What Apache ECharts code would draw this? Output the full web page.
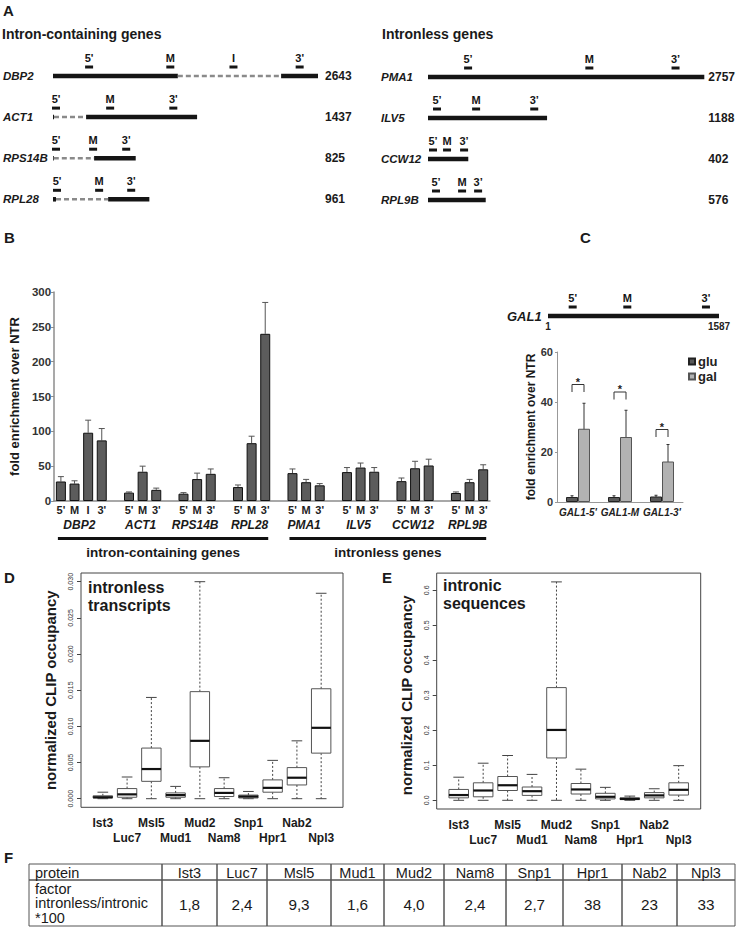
<!DOCTYPE html>
<html><head><meta charset="utf-8">
<script src="https://cdn.jsdelivr.net/npm/echarts@6/dist/echarts.min.js"></script>
<style>html,body{margin:0;padding:0;background:#fff}#c{width:738px;height:931px}</style>
</head><body><div id="c"></div>
<script>
// ---------------- Panel A data ----------------
const leftGenes = ['DBP2', 'ACT1', 'RPS14B', 'RPL28'];
const leftLengths = [2643, 1437, 825, 961];
// [start bp, end bp, gene index, intron?]
const leftSegments = [[0,1245,0,0],[1245,2275,0,1],[2275,2643,0,0],
  [0,10,1,0],[10,330,1,1],[330,1437,1,0],
  [0,8,2,0],[8,410,2,1],[410,825,2,0],
  [0,30,3,0],[30,550,3,1],[550,961,3,0]];
const leftProbePos = [[360,0],[1170,0],[1800,0],[2460,0],[30,1],[570,1],[1200,1],[30,2],[400,2],[730,2],[40,3],[460,3],[780,3]];
const leftProbeLabels = ["5'","M","I","3'","5'","M","3'","5'","M","3'","5'","M","3'"];

const rightGenes = ['PMA1', 'ILV5', 'CCW12', 'RPL9B'];
const rightLengths = [2757, 1188, 402, 576];
const rightSegments = [[0,2757,0,0],[0,1188,1,0],[0,402,2,0],[0,576,3,0]];
const rightProbePos = [[400,0],[1610,0],[2470,0],[90,1],[480,1],[1060,1],[50,2],[190,2],[360,2],[80,3],[340,3],[500,3]];
const rightProbeLabels = ["5’","M","3’","5’","M","3’","5’","M","3’","5’","M","3’"];

// ---------------- Panel B data ----------------
const bGenes = ['DBP2','ACT1','RPS14B','RPL28','PMA1','ILV5','CCW12','RPL9B'];
const bProbes = [["5'","M","I","3'"],["5'","M","3'"],["5'","M","3'"],["5'","M","3'"],["5'","M","3'"],["5'","M","3'"],["5'","M","3'"],["5'","M","3'"]];
const bMeans = [[28,25,98,87],[12,42,16],[10.5,31.5,39],[20,83,240],[40,27,22.5],[41.5,48,42],[28.5,47,51],[11.5,27,45.5]];
const bErrTop = [[35,29,116,104],[13,50,18.5],[12,40,46],[23,93,285],[46,31,25],[48,54.5,48],[33,57,60],[13,31,52]];
const bClasses = ['intron-containing genes', 'intronless genes'];
const bClassGenes = [[0,3],[4,7]];

// ---------------- Panel C data ----------------
const galLength = 1587;
const galProbePos = [229, 736, 1466];
const galProbeLabels = ["5'","M","3'"];
const cCats = ["GAL1-5'", "GAL1-M", "GAL1-3'"];
const gluMean = [2, 2, 2.2];
const gluErr = [0.5, 0.5, 0.5];
const galMean = [29.3, 26, 16.2];
const galErr = [10.2, 10.7, 6.8];
const sigTop = [47, 44, 29];

// ---------------- Panels D / E data ----------------
const proteins = ['Ist3','Luc7','Msl5','Mud1','Mud2','Nam8','Snp1','Hpr1','Nab2','Npl3'];
// [min, Q1, median, Q3, max]
const dBoxes = [[0,0.0001,0.0002,0.0004,0.0009],[0,0.0002,0.0006,0.0014,0.0030],[0,0.0024,0.0041,0.0070,0.0140],
  [0,0.0002,0.0005,0.0008,0.0017],[0,0.0044,0.0080,0.0148,0.0300],[0,0.0003,0.0008,0.0014,0.0029],
  [0,0.0001,0.0003,0.0005,0.0010],[0,0.0009,0.0015,0.0026,0.0053],[0,0.0019,0.0029,0.0043,0.0080],
  [0,0.0063,0.0098,0.0152,0.0284]];
const eBoxes = [[0,0.007,0.015,0.031,0.066],[0,0.010,0.028,0.050,0.106],[0,0.028,0.043,0.068,0.128],
  [0,0.014,0.026,0.038,0.074],[0,0.121,0.201,0.322,0.624],[0,0.018,0.031,0.048,0.089],
  [0,0.004,0.010,0.020,0.037],[0,0.002,0.004,0.007,0.012],[0,0.007,0.014,0.022,0.033],
  [0,0.015,0.030,0.050,0.099]];

// ---------------- Panel F data ----------------
const tableHeader = 'protein';
const tableRowLabel = ['factor', 'intronless/intronic', '*100'];
const tableFactors = ['1,8','2,4','9,3','1,6','4,0','2,4','2,7','38','23','33'];

// ---------------- styling / layout ----------------
const FAM = '"Liberation Sans", Arial, Helvetica, sans-serif';
const NARROW = '"Liberation Sans Narrow", "Arial Narrow", "Liberation Sans", Arial, sans-serif';
const ctx = document.createElement('canvas').getContext('2d');
function fitSize(family, weight, s, target) { ctx.font = weight + ' 20px ' + family; return target * 20 / ctx.measureText(s).width; }
const tableFs = Math.min(18, fitSize(NARROW, 'normal', 'intronless/intronic', 113));
const catFs = 12;
const TABLE_X = [29,162,217,267,331,384,444,506,563,622,677,735];
const TABLE_Y = [864, 880, 926];

// ---- build B categories
const bCats = [], bLabels = [], bBarData = [], bErrData = [], bGroupIdx = [];
bGenes.forEach((g, gi) => {
  if (gi > 0) { bCats.push('gap' + gi); bLabels.push(''); bBarData.push('-'); }
  const first = bCats.length;
  bProbes[gi].forEach((p, pi) => {
    const idx = bCats.length;
    bCats.push(g + ' ' + p); bLabels.push(p); bBarData.push(bMeans[gi][pi]);
    bErrData.push([idx, bMeans[gi][pi], bErrTop[gi][pi]]);
  });
  bGroupIdx.push([first, bCats.length - 1]);
});

// ---------------- render helpers ----------------
function segRender(params, api) {
  const s = api.coord([api.value(0), api.value(2)]);
  const e = api.coord([api.value(1), api.value(2)]);
  const intron = api.value(3) === 1;
  return { type: 'line', shape: { x1: s[0], y1: s[1], x2: e[0], y2: e[1] },
    style: { stroke: intron ? '#8a8a8a' : '#151515', lineWidth: intron ? 2.5 : 4.5, lineDash: intron ? [5, 3] : null } };
}
function probeRender(labels) {
  return function (params, api) {
    const p = api.coord([api.value(0), api.value(1)]);
    return { type: 'group', children: [
      { type: 'rect', shape: { x: p[0] - 4, y: p[1] - 10.5, width: 8, height: 3 }, style: { fill: '#151515' } },
      { type: 'text', x: p[0], y: p[1] - 18, style: { text: labels[params.dataIndex], align: 'center', verticalAlign: 'middle',
        font: 'bold 11px ' + FAM, fill: '#151515' } }
    ] };
  };
}
function bErrRender(params, api) {
  const lo = api.coord([api.value(0), api.value(1)]);
  const hi = api.coord([api.value(0), api.value(2)]);
  return { type: 'group', children: [
    { type: 'line', shape: { x1: lo[0], y1: lo[1], x2: hi[0], y2: hi[1] }, style: { stroke: '#555', lineWidth: 1 } },
    { type: 'line', shape: { x1: hi[0] - 3, y1: hi[1], x2: hi[0] + 3, y2: hi[1] }, style: { stroke: '#555', lineWidth: 1 } }
  ] };
}
function cErrRender(params, api) {
  const idx = api.value(0);
  const lo = api.coord([idx, api.value(1)]);
  const hi = api.coord([idx, api.value(2)]);
  const x = lo[0] + api.value(3) * 6;
  return { type: 'group', children: [
    { type: 'line', shape: { x1: x, y1: lo[1], x2: x, y2: hi[1] }, style: { stroke: '#333', lineWidth: 1 } },
    { type: 'line', shape: { x1: x - 1.5, y1: hi[1], x2: x + 1.5, y2: hi[1] }, style: { stroke: '#333', lineWidth: 1 } },
    { type: 'line', shape: { x1: x - 1.5, y1: lo[1], x2: x + 1.5, y2: lo[1] }, style: { stroke: '#333', lineWidth: 1 } }
  ] };
}
function bracketRender(params, api) {
  const idx = api.value(0);
  const t = api.coord([idx, api.value(1)]);
  const b = api.coord([idx, api.value(1) - 3]);
  const x1 = t[0] - 6, x2 = t[0] + 6;
  return { type: 'group', children: [
    { type: 'polyline', shape: { points: [[x1, b[1]], [x1, t[1]], [x2, t[1]], [x2, b[1]]] }, style: { stroke: '#333', fill: null, lineWidth: 1 } },
    { type: 'text', x: t[0], y: t[1] - 3, style: { text: '*', align: 'center', verticalAlign: 'middle', font: 'bold 11px ' + FAM, fill: '#222' } }
  ] };
}
function boxRender(params, api) {
  const x = api.value(0);
  const bw = api.size([1, 0])[0];
  const hw = bw * 0.4, cw = bw * 0.22;
  const pMin = api.coord([x, api.value(1)]), pQ1 = api.coord([x, api.value(2)]), pMed = api.coord([x, api.value(3)]),
    pQ3 = api.coord([x, api.value(4)]), pMax = api.coord([x, api.value(5)]);
  const cx = pMed[0];
  const dash = { stroke: '#444', lineWidth: 1, lineDash: [2, 2] };
  const solid = { stroke: '#444', lineWidth: 1 };
  return { type: 'group', children: [
    { type: 'line', shape: { x1: cx, y1: pQ3[1], x2: cx, y2: pMax[1] }, style: dash },
    { type: 'line', shape: { x1: cx, y1: pQ1[1], x2: cx, y2: pMin[1] }, style: dash },
    { type: 'line', shape: { x1: cx - cw, y1: pMax[1], x2: cx + cw, y2: pMax[1] }, style: solid },
    { type: 'line', shape: { x1: cx - cw, y1: pMin[1], x2: cx + cw, y2: pMin[1] }, style: solid },
    { type: 'rect', shape: { x: cx - hw, y: pQ3[1], width: 2 * hw, height: Math.max(0.5, pQ1[1] - pQ3[1]) }, style: { fill: '#fff', stroke: '#555', lineWidth: 1 } },
    { type: 'line', shape: { x1: cx - hw, y1: pMed[1], x2: cx + hw, y2: pMed[1] }, style: { stroke: '#111', lineWidth: 2.2 } }
  ] };
}

const geneNameLabel = { fontStyle: 'italic', fontWeight: 'bold', fontSize: 11.5, color: '#1a1a1a', fontFamily: FAM };
const numLabel = { fontWeight: 'bold', fontSize: 12, color: '#1a1a1a', fontFamily: FAM };
const noAxis = { axisLine: { show: false }, axisTick: { show: false }, splitLine: { show: false } };

const option = {
  animation: false,
  backgroundColor: '#fff',
  textStyle: { fontFamily: FAM },
  legend: {
    data: [{ name: 'glu', icon: 'rect' }, { name: 'gal', icon: 'rect' }],
    orient: 'vertical', left: 683, top: 350, itemWidth: 6, itemHeight: 6, itemGap: 2,
    textStyle: { fontSize: 13, fontWeight: 'bold', color: '#222', fontFamily: FAM, padding: [0, 0, 0, -2] }
  },
  grid: [
    { left: 52, top: 76, width: 266, height: 123.3 },
    { left: 428, top: 77, width: 279, height: 123 },
    { left: 44, top: 292, width: 446, height: 209 },
    { left: 548, top: 306, width: 171, height: 20 },
    { left: 557, top: 352, width: 126, height: 150 },
    { left: 90.7, top: 581.7, width: 242.6, height: 217 },
    { left: 446.5, top: 590.3, width: 244.4, height: 210 }
  ],
  xAxis: [
    { gridIndex: 0, type: 'value', min: 0, max: 2643, show: false },
    { gridIndex: 1, type: 'value', min: 0, max: 2757, show: false },
    { gridIndex: 2, type: 'category', data: bCats,
      axisLine: { lineStyle: { color: '#8c8c8c', width: 1.5 } }, axisTick: { show: false },
      axisLabel: { interval: 0, margin: 3, fontWeight: 'bold', fontSize: 11, color: '#222', formatter: (v, i) => bLabels[i] } },
    { gridIndex: 3, type: 'value', min: 0, max: galLength, show: false },
    { gridIndex: 4, type: 'category', data: cCats,
      axisLine: { lineStyle: { color: '#999', width: 1 } }, axisTick: { show: false },
      axisLabel: { interval: 0, margin: 5, fontWeight: 'bold', fontStyle: 'italic', fontSize: 10, color: '#222' } },
    { gridIndex: 5, type: 'category', data: proteins, offset: 8.6, axisLine: { show: false },
      axisTick: { alignWithLabel: true, interval: 0, length: 5, lineStyle: { color: '#444' } },
      axisLabel: { interval: 0, margin: 8, fontWeight: 'bold', fontSize: catFs, lineHeight: 15, fontFamily: NARROW, color: '#1a1a1a',
        formatter: (v, i) => (i % 2 ? '\n' + v : v) } },
    { gridIndex: 6, type: 'category', data: proteins, offset: 8.7, axisLine: { show: false },
      axisTick: { alignWithLabel: true, interval: 0, length: 5, lineStyle: { color: '#444' } },
      axisLabel: { interval: 0, margin: 8, fontWeight: 'bold', fontSize: catFs, lineHeight: 15, fontFamily: NARROW, color: '#1a1a1a',
        formatter: (v, i) => (i % 2 ? '\n' + v : v) } }
  ],
  yAxis: [
    Object.assign({ gridIndex: 0, type: 'category', data: leftGenes, inverse: true, boundaryGap: false,
      axisLabel: Object.assign({ margin: 50, align: 'left' }, geneNameLabel) }, noAxis),
    Object.assign({ gridIndex: 0, type: 'category', position: 'right', data: leftLengths.map(String), inverse: true, boundaryGap: false,
      axisLabel: Object.assign({ margin: 7, align: 'left' }, numLabel) }, noAxis),
    Object.assign({ gridIndex: 1, type: 'category', data: rightGenes, inverse: true, boundaryGap: false,
      axisLabel: Object.assign({ margin: 47, align: 'left' }, geneNameLabel) }, noAxis),
    Object.assign({ gridIndex: 1, type: 'category', position: 'right', data: rightLengths.map(String), inverse: true, boundaryGap: false,
      axisLabel: Object.assign({ margin: 4, align: 'left' }, numLabel) }, noAxis),
    { gridIndex: 2, type: 'value', min: 0, max: 300, interval: 50, splitLine: { show: false },
      axisLine: { show: true, lineStyle: { color: '#8c8c8c', width: 1.5 } }, axisTick: { show: true, length: 3, lineStyle: { color: '#8c8c8c' } },
      axisLabel: { margin: 3, fontWeight: 'bold', fontSize: 11.5, color: '#333' },
      name: 'fold enrichment over NTR', nameLocation: 'middle', nameGap: 23,
      nameTextStyle: { fontWeight: 'bold', fontSize: 13, color: '#1a1a1a' } },
    { gridIndex: 3, type: 'value', min: 0, max: 1, show: false },
    { gridIndex: 4, type: 'value', min: 0, max: 60, interval: 20, splitLine: { show: false },
      axisLine: { show: true, lineStyle: { color: '#999', width: 1 } }, axisTick: { show: true, length: 2, lineStyle: { color: '#999' } },
      axisLabel: { margin: 4, fontWeight: 'bold', fontSize: 11, color: '#333' },
      name: 'fold enrichment over NTR', nameLocation: 'middle', nameGap: 18,
      nameTextStyle: { fontWeight: 'bold', fontSize: 12, color: '#1a1a1a' } },
    { gridIndex: 5, type: 'value', min: 0, max: 0.03, interval: 0.005, offset: 9.7, splitLine: { show: false },
      axisLine: { show: false }, axisTick: { show: true, length: 4, lineStyle: { color: '#444' } },
      axisLabel: { rotate: 90, margin: 7, fontSize: 7, color: '#333', formatter: v => v.toFixed(3) },
      name: 'normalized CLIP occupancy', nameLocation: 'middle', nameGap: 23,
      nameTextStyle: { fontWeight: 'bold', fontSize: 15, color: '#1a1a1a' } },
    { gridIndex: 6, type: 'value', min: 0, max: 0.6, interval: 0.1, offset: 9.8, splitLine: { show: false },
      axisLine: { show: false }, axisTick: { show: true, length: 4, lineStyle: { color: '#444' } },
      axisLabel: { rotate: 90, margin: 7, fontSize: 7, color: '#333', formatter: v => v.toFixed(1) },
      name: 'normalized CLIP occupancy', nameLocation: 'middle', nameGap: 23,
      nameTextStyle: { fontWeight: 'bold', fontSize: 15, color: '#1a1a1a' } }
  ],
  series: [
    { type: 'custom', xAxisIndex: 0, yAxisIndex: 0, data: leftSegments, encode: { x: [0, 1], y: 2 }, renderItem: segRender, silent: true },
    { type: 'custom', xAxisIndex: 0, yAxisIndex: 0, data: leftProbePos, encode: { x: 0, y: 1 }, renderItem: probeRender(leftProbeLabels), silent: true },
    { type: 'custom', xAxisIndex: 1, yAxisIndex: 2, data: rightSegments, encode: { x: [0, 1], y: 2 }, renderItem: segRender, silent: true },
    { type: 'custom', xAxisIndex: 1, yAxisIndex: 2, data: rightProbePos, encode: { x: 0, y: 1 }, renderItem: probeRender(rightProbeLabels), silent: true },
    { type: 'bar', xAxisIndex: 2, yAxisIndex: 4, data: bBarData, barWidth: 10,
      itemStyle: { color: '#5c5c5c', borderColor: '#111', borderWidth: 1 } },
    { type: 'custom', xAxisIndex: 2, yAxisIndex: 4, data: bErrData, encode: { x: 0, y: [1, 2] }, renderItem: bErrRender, silent: true },
    { type: 'custom', xAxisIndex: 3, yAxisIndex: 5, data: [[0, galLength, 0.5, 0]], encode: { x: [0, 1], y: 2 }, renderItem: segRender, silent: true },
    { type: 'custom', xAxisIndex: 3, yAxisIndex: 5, data: galProbePos.map(p => [p, 0.5]), encode: { x: 0, y: 1 }, renderItem: probeRender(galProbeLabels), silent: true },
    { type: 'custom', xAxisIndex: 3, yAxisIndex: 5, data: [[1, 0.5], [galLength, 0.5]], encode: { x: 0, y: 1 }, silent: true,
      renderItem: (params, api) => { const p = api.coord([api.value(0), api.value(1)]);
        return { type: 'text', x: p[0], y: p[1] + 10, style: { text: String(api.value(0)), align: 'center', verticalAlign: 'middle', font: 'bold 10px ' + FAM, fill: '#222' } }; } },
    { name: 'glu', type: 'bar', xAxisIndex: 4, yAxisIndex: 6, data: gluMean, barWidth: 12, barGap: '0%',
      itemStyle: { color: '#595959', borderColor: '#222', borderWidth: 1 } },
    { name: 'gal', type: 'bar', xAxisIndex: 4, yAxisIndex: 6, data: galMean, barWidth: 12, barGap: '0%',
      itemStyle: { color: '#b2b2b2', borderColor: '#555', borderWidth: 1 } },
    { type: 'custom', xAxisIndex: 4, yAxisIndex: 6, silent: true, encode: { x: 0, y: [1, 2] }, renderItem: cErrRender,
      data: gluMean.map((m, i) => [i, m - gluErr[i], m + gluErr[i], -1]).concat(galMean.map((m, i) => [i, m - galErr[i], m + galErr[i], 1])) },
    { type: 'custom', xAxisIndex: 4, yAxisIndex: 6, silent: true, encode: { x: 0, y: 1 }, renderItem: bracketRender,
      data: sigTop.map((t, i) => [i, t]) },
    { type: 'custom', xAxisIndex: 5, yAxisIndex: 7, silent: true, encode: { x: 0, y: [1, 2, 3, 4, 5] }, renderItem: boxRender,
      data: dBoxes.map((b, i) => [i].concat(b)) },
    { type: 'custom', xAxisIndex: 6, yAxisIndex: 8, silent: true, encode: { x: 0, y: [1, 2, 3, 4, 5] }, renderItem: boxRender,
      data: eBoxes.map((b, i) => [i].concat(b)) }
  ]
};

const chart = echarts.init(document.getElementById('c'), null, { renderer: 'svg', width: 738, height: 931 });
chart.setOption(option);

// ---------------- texts, frames and table ----------------
function txt(text, x, y, font, align, extra) {
  return Object.assign({ type: 'text', x: x, y: y, silent: true,
    style: { text: text, font: font, fill: '#1a1a1a', align: align || 'left', verticalAlign: 'middle' } }, extra || {});
}
const g = [];
const letterFont = 'bold 15px ' + FAM;
g.push(txt('A', 3, 10, letterFont));
g.push(txt('Intron-containing genes', 2, 34, 'bold 14px ' + FAM));
g.push(txt('Intronless genes', 382, 34, 'bold 14px ' + FAM));
g.push(txt('B', 4, 237, letterFont));
g.push(txt('C', 580, 237, letterFont));
g.push(txt('GAL1', 507, 316, 'italic bold 13px ' + FAM));
g.push(txt('D', 4, 577, letterFont));
g.push(txt('E', 382, 577, letterFont));
g.push(txt('F', 4, 857, letterFont));

// B gene names and class underlines, positioned from the category axis
const px = i => chart.convertToPixel({ xAxisIndex: 2 }, bCats[i]);
bGenes.forEach((gname, gi) => {
  const c = (px(bGroupIdx[gi][0]) + px(bGroupIdx[gi][1])) / 2;
  g.push(txt(gname, c - 2, 525, 'italic bold 12px ' + FAM, 'center'));
});
bClasses.forEach((lab, ci) => {
  const x1 = px(bGroupIdx[bClassGenes[ci][0]][0]) - 3;
  const x2 = px(bGroupIdx[bClassGenes[ci][1]][1]) + 3;
  g.push({ type: 'line', silent: true, shape: { x1: x1, y1: 538.5, x2: x2, y2: 538.5 }, style: { stroke: '#111', lineWidth: 3 } });
  g.push(txt(lab, (x1 + x2) / 2, 552, 'bold 13.5px ' + FAM, 'center'));
});

// D / E frames and inner titles
g.push({ type: 'rect', silent: true, shape: { x: 81, y: 573, width: 262, height: 234.3 }, style: { fill: null, stroke: '#444', lineWidth: 1 } });
g.push({ type: 'rect', silent: true, shape: { x: 436.7, y: 573.1, width: 264, height: 235.9 }, style: { fill: null, stroke: '#444', lineWidth: 1 } });
g.push(txt('intronless', 88, 587, 'bold 16px ' + FAM));
g.push(txt('transcripts', 88, 605, 'bold 16px ' + FAM));
g.push(txt('intronic', 443, 585, 'bold 16px ' + FAM));
g.push(txt('sequences', 443, 603, 'bold 16px ' + FAM));

// F table
const tFont = 'normal ' + tableFs.toFixed(2) + 'px ' + NARROW;
const nFont = 'normal ' + (tableFs * 1.05).toFixed(2) + 'px ' + NARROW;
for (let r = 0; r < 2; r++) {
  for (let c = 0; c < TABLE_X.length - 1; c++) {
    g.push({ type: 'rect', silent: true, shape: { x: TABLE_X[c], y: TABLE_Y[r], width: TABLE_X[c + 1] - TABLE_X[c], height: TABLE_Y[r + 1] - TABLE_Y[r] },
      style: { fill: null, stroke: '#555', lineWidth: 1 } });
  }
}
g.push(txt(tableHeader, TABLE_X[0] + 6, (TABLE_Y[0] + TABLE_Y[1]) / 2 + 1, tFont));
const rowMid = (TABLE_Y[1] + TABLE_Y[2]) / 2;
tableRowLabel.forEach((l, i) => g.push(txt(l, TABLE_X[0] + 6, rowMid + (i - 1) * 14.5, tFont)));
proteins.forEach((p, i) => {
  const cx = (TABLE_X[i + 1] + TABLE_X[i + 2]) / 2;
  g.push(txt(p, cx, (TABLE_Y[0] + TABLE_Y[1]) / 2 + 1, tFont, 'center'));
  g.push(txt(tableFactors[i], cx, rowMid + 1, nFont, 'center'));
});

chart.setOption({ graphic: { elements: g } });
</script>
</body></html>
